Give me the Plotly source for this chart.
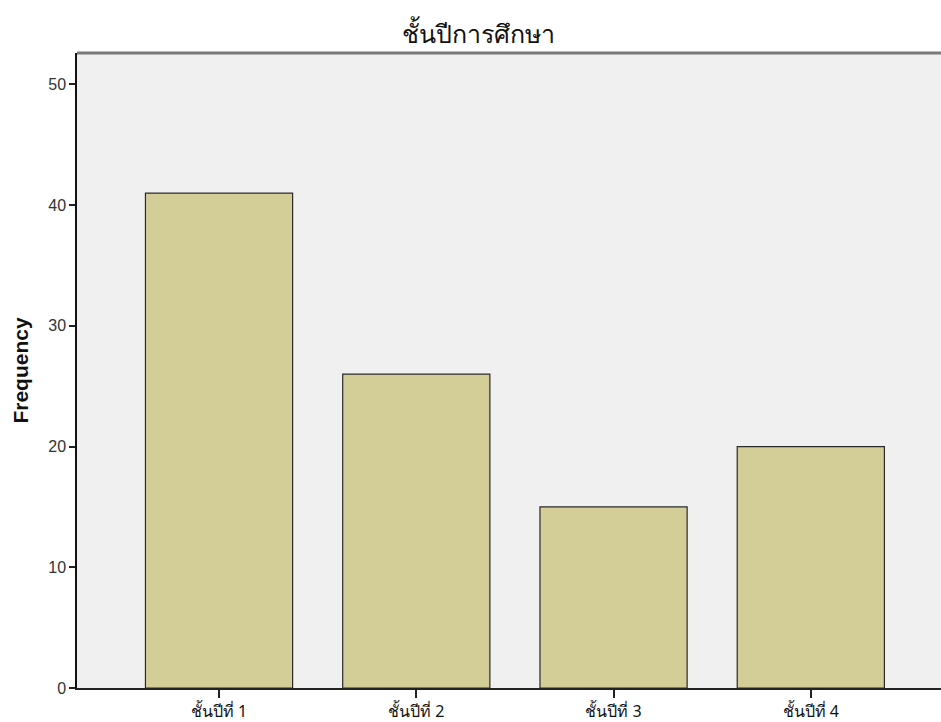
import plotly.graph_objects as go

categories = ["ชั้นปีที่ 1", "ชั้นปีที่ 2", "ชั้นปีที่ 3", "ชั้นปีที่ 4"]
frequency = [41, 26, 15, 20]
y_ticks = [0, 10, 20, 30, 40, 50]

thai_font = "Tahoma, Noto Sans, DejaVu Sans, sans-serif"

fig = go.Figure(go.Bar(
    x=categories, y=frequency, width=0.746,
    marker=dict(color="#d3ce97", line=dict(color="#2a2a2a", width=1.2)),
))

fig.update_layout(
    width=941, height=722,
    margin=dict(l=77, r=0, t=53, b=32),
    paper_bgcolor="white", plot_bgcolor="#f0f0f0",
    showlegend=False,
    font=dict(family="Liberation Sans, Arial, sans-serif", color="#333333", size=16),
    title=dict(text="ชั้นปีการศึกษา", x=0.508, xanchor="center", y=0.953, yanchor="middle",
               font=dict(size=25, color="#111111", family=thai_font)),
    xaxis=dict(range=[-0.72, 3.66], showgrid=False, zeroline=False,
               ticks="outside", ticklen=8, tickcolor="#222222", tickwidth=1.5,
               showline=True, linecolor="#222222", linewidth=1.5,
               tickfont=dict(size=16, color="#111111", family=thai_font)),
    yaxis=dict(range=[0, 52.6], tickvals=y_ticks, showgrid=False, zeroline=False,
               ticks="outside", ticklen=6, tickcolor="#222222", tickwidth=1.5,
               showline=True, linecolor="#111111", linewidth=1.5,
               tickfont=dict(size=16, color="#333333"),
               title=dict(text="<b>Frequency</b>",
                          font=dict(size=21, color="#111111", family="Liberation Sans, Arial, sans-serif"),
                          standoff=14)),
    shapes=[dict(type="line", xref="paper", yref="paper", x0=0, x1=1, y0=1, y1=1,
                 line=dict(color="#7a7a7a", width=3))],
)

fig.write_html("out.html", config={"displayModeBar": False},
               post_script="document.body.style.margin='0';")
